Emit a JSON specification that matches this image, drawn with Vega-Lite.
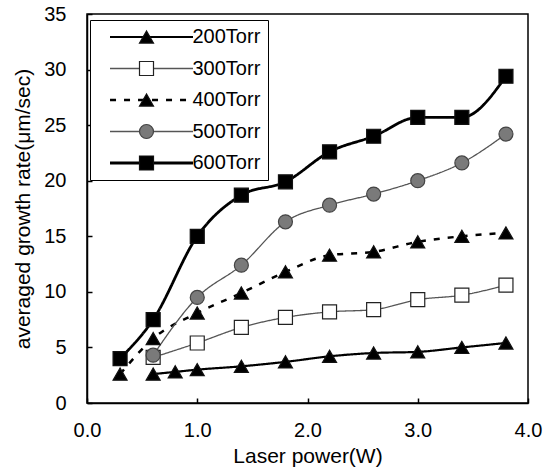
{
  "$schema": "https://vega.github.io/schema/vega-lite/v6.json",
  "width": 441,
  "height": 389,
  "autosize": "none",
  "padding": {"left": 87, "top": 14, "right": 23, "bottom": 67},
  "background": "white",
  "config": {
    "font": "Liberation Sans",
    "view": {"stroke": "black", "strokeWidth": 1.5},
    "axis": {
      "domainColor": "black", "domainWidth": 1.5,
      "tickColor": "black", "tickWidth": 1.5, "tickSize": -5,
      "grid": false, "labelColor": "black", "titleColor": "black",
      "labelFont": "Liberation Sans", "titleFont": "Liberation Sans",
      "labelFontSize": 20, "titleFontSize": 21, "titleFontWeight": "normal",
      "labelFlush": false
    }
  },
  "data": {"values": [
    {"p": "200Torr", "x": 0.6, "y": 2.6},
    {"p": "200Torr", "x": 0.8, "y": 2.8},
    {"p": "200Torr", "x": 1.0, "y": 3.0},
    {"p": "200Torr", "x": 1.4, "y": 3.3},
    {"p": "200Torr", "x": 1.8, "y": 3.7},
    {"p": "200Torr", "x": 2.2, "y": 4.2},
    {"p": "200Torr", "x": 2.6, "y": 4.5},
    {"p": "200Torr", "x": 3.0, "y": 4.6},
    {"p": "200Torr", "x": 3.4, "y": 5.0},
    {"p": "200Torr", "x": 3.8, "y": 5.4},
    {"p": "300Torr", "x": 0.6, "y": 4.1},
    {"p": "300Torr", "x": 1.0, "y": 5.4},
    {"p": "300Torr", "x": 1.4, "y": 6.8},
    {"p": "300Torr", "x": 1.8, "y": 7.7},
    {"p": "300Torr", "x": 2.2, "y": 8.2},
    {"p": "300Torr", "x": 2.6, "y": 8.4},
    {"p": "300Torr", "x": 3.0, "y": 9.3},
    {"p": "300Torr", "x": 3.4, "y": 9.7},
    {"p": "300Torr", "x": 3.8, "y": 10.6},
    {"p": "400Torr", "x": 0.3, "y": 2.6},
    {"p": "400Torr", "x": 0.6, "y": 5.8},
    {"p": "400Torr", "x": 1.0, "y": 8.1},
    {"p": "400Torr", "x": 1.4, "y": 9.9},
    {"p": "400Torr", "x": 1.8, "y": 11.8},
    {"p": "400Torr", "x": 2.2, "y": 13.3},
    {"p": "400Torr", "x": 2.6, "y": 13.6},
    {"p": "400Torr", "x": 3.0, "y": 14.5},
    {"p": "400Torr", "x": 3.4, "y": 15.0},
    {"p": "400Torr", "x": 3.8, "y": 15.3},
    {"p": "500Torr", "x": 0.6, "y": 4.3},
    {"p": "500Torr", "x": 1.0, "y": 9.5},
    {"p": "500Torr", "x": 1.4, "y": 12.4},
    {"p": "500Torr", "x": 1.8, "y": 16.3},
    {"p": "500Torr", "x": 2.2, "y": 17.8},
    {"p": "500Torr", "x": 2.6, "y": 18.8},
    {"p": "500Torr", "x": 3.0, "y": 20.0},
    {"p": "500Torr", "x": 3.4, "y": 21.6},
    {"p": "500Torr", "x": 3.8, "y": 24.2},
    {"p": "600Torr", "x": 0.3, "y": 4.0},
    {"p": "600Torr", "x": 0.6, "y": 7.5},
    {"p": "600Torr", "x": 1.0, "y": 15.0},
    {"p": "600Torr", "x": 1.4, "y": 18.7},
    {"p": "600Torr", "x": 1.8, "y": 19.9},
    {"p": "600Torr", "x": 2.2, "y": 22.6},
    {"p": "600Torr", "x": 2.6, "y": 24.0},
    {"p": "600Torr", "x": 3.0, "y": 25.7},
    {"p": "600Torr", "x": 3.4, "y": 25.7},
    {"p": "600Torr", "x": 3.8, "y": 29.4}
  ]},
  "encoding": {
    "x": {"field": "x", "type": "quantitative", "scale": {"domain": [0, 4]},
          "axis": {"values": [0, 1, 2, 3, 4], "format": ".1f", "title": "Laser power(W)", "labelPadding": 22, "titlePadding": 5}},
    "y": {"field": "y", "type": "quantitative", "scale": {"domain": [0, 35]},
          "axis": {"values": [0, 5, 10, 15, 20, 25, 30, 35], "title": "averaged growth rate(μm/sec)", "labelPadding": 26, "titlePadding": 10}}
  },
  "layer": [
    {
      "mark": {"type": "line", "interpolate": "monotone"},
      "encoding": {
        "color": {"field": "p", "type": "nominal",
          "scale": {"range": ["black", "#555555", "black", "#555555", "black"]},
          "legend": {"title": null, "orient": "none", "legendX": 3, "legendY": 6,
            "symbolType": "M-20,0H20", "symbolSize": 17.2, "labelFontSize": 20, "labelFont": "Liberation Sans",
            "labelColor": "black", "rowPadding": 11.5, "padding": 7, "symbolOffset": 44.5, "labelOffset": 31,
            "strokeColor": "black", "fillColor": "white", "cornerRadius": 0}},
        "strokeDash": {"field": "p", "type": "nominal",
          "scale": {"range": [[1, 0], [1, 0], [6, 8], [1, 0], [1, 0]]}},
        "strokeWidth": {"field": "p", "type": "nominal",
          "scale": {"type": "ordinal", "range": [2.2, 1.3, 2.5, 1.3, 2.8]}}
      }
    },
    {
      "mark": {"type": "point", "filled": true, "size": 196, "strokeWidth": 1.2, "opacity": 1},
      "encoding": {
        "shape": {"field": "p", "type": "nominal",
          "scale": {"domain": ["200Torr", "300Torr", "400Torr", "500Torr", "600Torr"],
                    "range": ["triangle-up", "square", "triangle-up", "circle", "square"]},
          "legend": {"title": null, "orient": "none", "legendX": 42.5, "legendY": 6,
            "symbolSize": 196, "labelFontSize": 20, "labelExpr": "''", "rowPadding": 11.5, "padding": 7,
            "symbolStrokeWidth": 1.2, "symbolOpacity": 1}},
        "fill": {"field": "p", "type": "nominal",
          "scale": {"domain": ["200Torr", "300Torr", "400Torr", "500Torr", "600Torr"],
                    "range": ["black", "white", "black", "#7a7a7a", "black"]}},
        "stroke": {"field": "p", "type": "nominal",
          "scale": {"domain": ["200Torr", "300Torr", "400Torr", "500Torr", "600Torr"],
                    "range": ["#111111", "#222222", "#111111", "#444444", "#111111"]}}
      }
    }
  ]
}
